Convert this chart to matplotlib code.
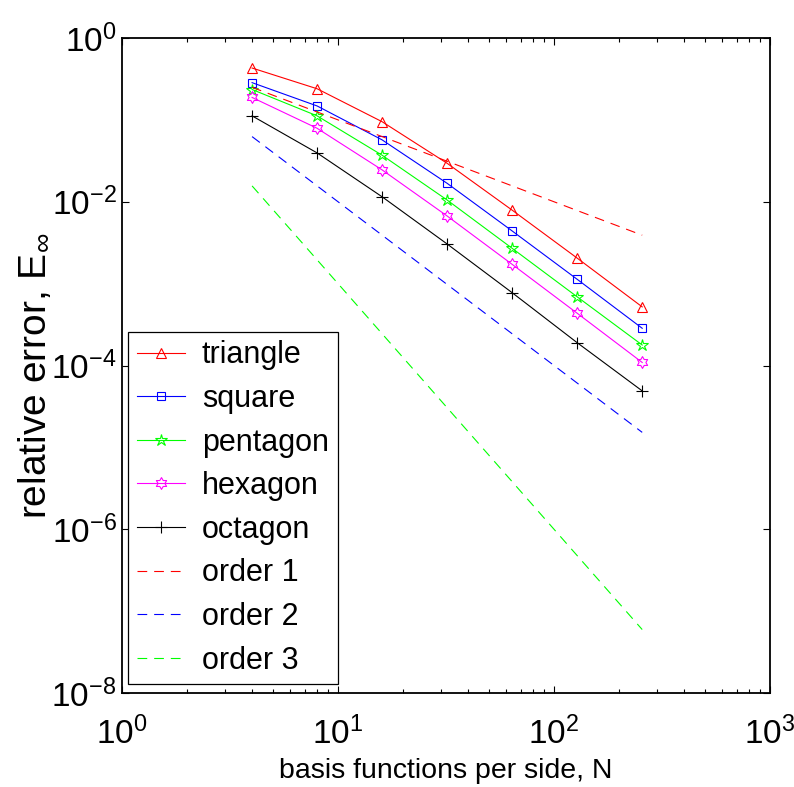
import numpy as np
import matplotlib
matplotlib.use("Agg")
import matplotlib.pyplot as plt
from matplotlib.path import Path
from matplotlib.ticker import FixedLocator, LogFormatterMathtext, LogLocator, NullLocator, NullFormatter

plt.rcParams['font.family'] = ['Liberation Sans', 'DejaVu Sans']
plt.rcParams['mathtext.fontset'] = 'custom'
plt.rcParams['mathtext.rm'] = 'Liberation Sans'
plt.rcParams['mathtext.it'] = 'Liberation Sans:italic'
plt.rcParams['mathtext.sf'] = 'Liberation Sans'
plt.rcParams['lines.scale_dashes'] = False

# basis functions per side
N = [4, 8, 16, 32, 64, 128, 256]

# relative error for each polygon
triangle = [4.3e-1, 2.4e-1, 9.5e-2, 2.95e-2, 7.9e-3, 2.05e-3, 5.2e-4]
square = [2.85e-1, 1.48e-1, 5.7e-2, 1.68e-2, 4.4e-3, 1.13e-3, 2.85e-4]
pentagon = [2.35e-1, 1.12e-1, 3.7e-2, 1.05e-2, 2.7e-3, 6.9e-4, 1.78e-4]
hexagon = [1.88e-1, 7.9e-2, 2.45e-2, 6.7e-3, 1.72e-3, 4.35e-4, 1.09e-4]
octagon = [1.12e-1, 3.95e-2, 1.15e-2, 3.05e-3, 7.75e-4, 1.9e-4, 4.9e-5]

# reference slopes
order1 = [2.5e-1, 1.25e-1, 6.25e-2, 3.125e-2, 1.5625e-2, 7.8125e-3, 3.90625e-3]
order2 = [6.25e-2, 1.5625e-2, 3.90625e-3, 9.765625e-4, 2.4414e-4, 6.1035e-5, 1.5259e-5]
order3 = [1.5625e-2, 1.953125e-3, 2.4414e-4, 3.0518e-5, 3.8147e-6, 4.7684e-7, 5.9605e-8]


def hexagram():
    # six pointed star outline
    ang = np.pi / 2 + np.arange(12) * np.pi / 6
    rad = np.where(np.arange(12) % 2 == 0, 1.0, 1.0 / np.sqrt(3))
    verts = np.column_stack([rad * np.cos(ang), rad * np.sin(ang)])
    verts = np.vstack([verts, verts[:1]])
    return Path(verts, closed=True)


fig = plt.figure(figsize=(7.94, 7.87), dpi=100)
ax = fig.add_axes([0.1537, 0.1194, 0.8161, 0.8323])

lw = 0.8
ax.plot(N, triangle, '-', color='r', lw=lw, marker='^', ms=7, mfc='none', mew=0.8, label='triangle')
ax.plot(N, square, '-', color='b', lw=lw, marker='s', ms=5.5, mfc='none', mew=0.8, label='square')
ax.plot(N, pentagon, '-', color='#00ff00', lw=lw, marker='*', ms=9, mfc='none', mew=0.8, label='pentagon')
ax.plot(N, hexagon, '-', color='#ff00ff', lw=lw, marker=hexagram(), ms=8.5, mfc='none', mew=0.8, label='hexagon')
ax.plot(N, octagon, '-', color='k', lw=lw, marker='+', ms=8, mew=0.8, label='octagon')
ax.plot(N, order1, color='r', lw=lw, dashes=(7, 5), label='order 1')
ax.plot(N, order2, color='b', lw=lw, dashes=(7, 5), label='order 2')
ax.plot(N, order3, color='#00ff00', lw=lw, dashes=(7, 5), label='order 3')

ax.set_xscale('log')
ax.set_yscale('log')
ax.set_xlim(1, 1000)
ax.set_ylim(1e-8, 1)

ax.xaxis.set_major_locator(FixedLocator([1, 10, 100, 1000]))
ax.xaxis.set_minor_locator(LogLocator(base=10, subs=np.arange(2, 10)))
ax.xaxis.set_minor_formatter(NullFormatter())
ax.xaxis.set_major_formatter(LogFormatterMathtext())
ax.yaxis.set_major_locator(FixedLocator([1e-8, 1e-6, 1e-4, 1e-2, 1]))
ax.yaxis.set_minor_locator(NullLocator())
ax.yaxis.set_major_formatter(LogFormatterMathtext())

ax.tick_params(which='both', direction='in', top=True, right=True, width=0.8, labelsize=24)
ax.tick_params(which='major', length=5)
ax.tick_params(which='minor', length=3.2)
ax.tick_params(axis='x', pad=17)
ax.tick_params(axis='y', pad=4)
for s in ax.spines.values():
    s.set_linewidth(1.3)

ax.set_xlabel('basis functions per side, N', fontsize=20.5, va='baseline')
ax.xaxis.set_label_coords(0.5, -0.13)
ax.set_ylabel(r'relative error, E$_\infty$', fontsize=28, va='baseline')
ax.yaxis.set_label_coords(-0.119, 0.484)

leg = ax.legend(loc='lower left', bbox_to_anchor=(0.0097, 0.0137), borderaxespad=0,
                fontsize=22, handlelength=1.57, handletextpad=0.56,
                labelspacing=0.445, borderpad=0.28, fancybox=False, framealpha=1, edgecolor='k')
leg.get_frame().set_linewidth(0.9)

fig.savefig('out.png', dpi=100)
